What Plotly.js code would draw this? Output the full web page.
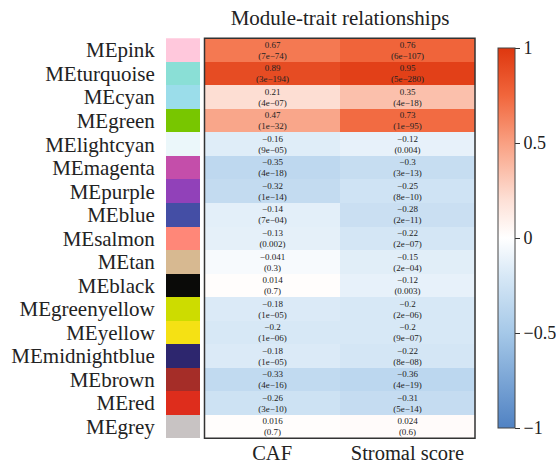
<!DOCTYPE html>
<html>
<head>
<meta charset="utf-8">
<script src="https://cdn.plot.ly/plotly-3.0.1.min.js"></script>
<style>html,body{margin:0;padding:0;background:#fff;}#chart{width:556px;height:469px;}</style>
</head>
<body>
<div id="chart"></div>
<script>
const modules = ["MEpink","MEturquoise","MEcyan","MEgreen","MElightcyan","MEmagenta","MEpurple","MEblue","MEsalmon","MEtan","MEblack","MEgreenyellow","MEyellow","MEmidnightblue","MEbrown","MEred","MEgrey"];
const moduleColors = ["#FFC8DC","#8ADFD6","#9BDDEA","#78C600","#EBF7FA","#C44EAA","#9141B9","#444EA5","#FF8778","#D7B991","#0A0A08","#CDDC00","#F5E114","#2D266E","#A52D28","#DE2D1C","#C8C3C3"];
const traits = ["CAF","Stromal score"];
const cafCor = [0.67,0.89,0.21,0.47,-0.16,-0.35,-0.32,-0.14,-0.13,-0.041,0.014,-0.18,-0.2,-0.18,-0.33,-0.26,0.016];
const cafP = ["7e−74","3e−194","4e−07","1e−32","9e−05","4e−18","1e−14","7e−04","0.002","0.3","0.7","1e−05","1e−06","1e−05","4e−16","3e−10","0.7"];
const stromalCor = [0.76,0.95,0.35,0.73,-0.12,-0.3,-0.25,-0.28,-0.22,-0.15,-0.12,-0.2,-0.2,-0.22,-0.36,-0.31,0.024];
const stromalP = ["6e−107","5e−280","4e−18","1e−95","0.004","3e−13","8e−10","2e−11","2e−07","2e−04","0.003","2e−06","9e−07","8e−08","4e−19","5e−14","0.6"];
const cbTicks = [-1,-0.5,0,0.5,1];
const cbTickText = ["−1","−0.5","0","0.5","1"];

const fmt = v => String(v).replace("-", "−");
const z = modules.map((m,i) => [cafCor[i], stromalCor[i]]);
const txt = modules.map((m,i) => [fmt(cafCor[i]) + "<br>(" + cafP[i] + ")", fmt(stromalCor[i]) + "<br>(" + stromalP[i] + ")"]);

const font = "Liberation Serif";
const W = 556, H = 469;

const heat = {
  type: "heatmap",
  x: traits, y: modules, z: z,
  text: txt, texttemplate: "%{text}",
  textfont: {family: font, size: 9, color: "#222"},
  zmin: -1, zmax: 1,
  colorscale: [
    [0, "rgb(80,130,195)"],
    [0.25, "rgb(165,200,232)"],
    [0.4, "rgb(215,232,246)"],
    [0.5, "rgb(255,255,255)"],
    [0.6, "rgb(253,224,214)"],
    [0.75, "rgb(249,160,130)"],
    [0.875, "rgb(241,102,60)"],
    [1, "rgb(222,55,15)"]
  ],
  xaxis: "x", yaxis: "y",
  hoverinfo: "skip",
  colorbar: {
    x: 487.5/W, xanchor: "left", xref: "paper",
    y: (H-238)/H, yanchor: "middle",
    len: 400, lenmode: "pixels", thickness: 17,
    outlinewidth: 1, outlinecolor: "#444",
    tickvals: cbTicks, ticktext: cbTickText,
    ticks: "outside", ticklen: 5, tickcolor: "#333",
    tickfont: {family: font, size: 18, color: "#222"}
  }
};

const swatch = {
  type: "bar", orientation: "h",
  y: modules, x: modules.map(() => 1),
  marker: {color: moduleColors, line: {width: 0}},
  xaxis: "x2", yaxis: "y",
  hoverinfo: "skip", showlegend: false
};

const layout = {
  width: W, height: H,
  margin: {l: 0, r: 0, t: 0, b: 0, autoexpand: false},
  paper_bgcolor: "#fff", plot_bgcolor: "#fff",
  font: {family: font, color: "#222"},
  bargap: 0,
  title: {text: "Module-trait relationships", font: {family: font, size: 21, color: "#222"},
          x: 340/W, xanchor: "center", xref: "paper", y: 1 - 18/H, yanchor: "middle", yref: "container"},
  xaxis: {domain: [204.5/W, 475/W], showgrid: false, zeroline: false,
          ticks: "",
          tickvals: traits, ticktext: traits,
          tickfont: {family: font, size: 20.5, color: "#222"}, fixedrange: true},
  xaxis2: {domain: [166/W, 200/W], range: [0,1], showgrid: false, zeroline: false, showticklabels: false, ticks: ""},
  yaxis: {domain: [(H-438.3)/H, (H-38.3)/H], anchor: "x2", autorange: "reversed",
          categoryorder: "array", categoryarray: modules,
          tickvals: modules, ticktext: modules,
          showgrid: false, zeroline: false, ticks: "outside", ticklen: 6, tickcolor: "rgba(0,0,0,0)",
          tickfont: {family: font, size: 21, color: "#222"}},
  shapes: [{type: "rect", xref: "x domain", yref: "y domain", x0: 0, x1: 1, y0: 0, y1: 1,
            line: {color: "#333", width: 1.5}}]
};

Plotly.newPlot("chart", [swatch, heat], layout, {displayModeBar: false, staticPlot: true});
</script>
</body>
</html>
